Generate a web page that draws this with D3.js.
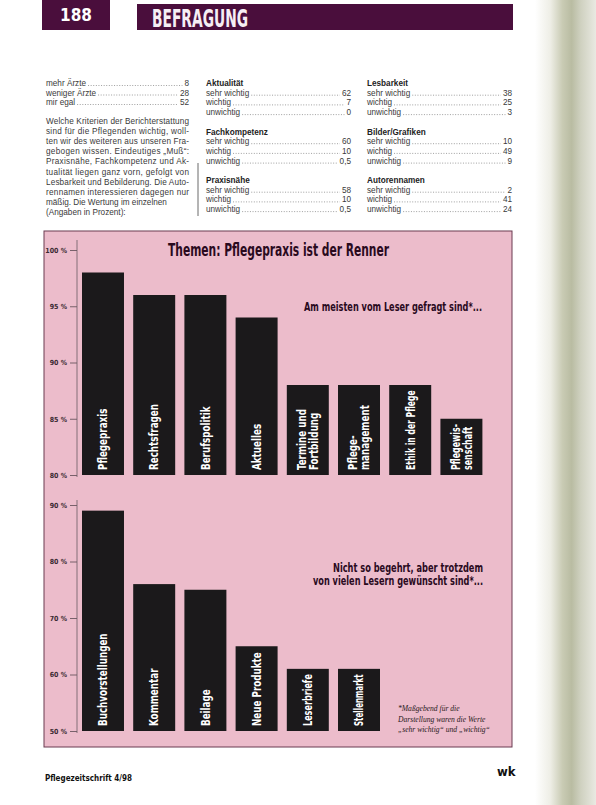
<!DOCTYPE html>
<html><head><meta charset="utf-8">
<script src="https://cdn.jsdelivr.net/npm/d3@7"></script>
<style>
html,body{margin:0;padding:0;background:#fff;}
svg{display:block;}
</style></head>
<body>
<script>
// ---------- data ----------
const topCategories = ["Pflegepraxis","Rechtsfragen","Berufspolitik","Aktuelles","Termine und\nFortbildung","Pflege-\nmanagement","Ethik in der Pflege","Pflegewis-\nsenschaft"];
const topValues = [98, 96, 96, 94, 88, 88, 88, 85];
const topTicks = [80, 85, 90, 95, 100];

const bottomCategories = ["Buchvorstellungen","Kommentar","Beilage","Neue Produkte","Leserbriefe","Stellenmarkt"];
const bottomValues = [89, 76, 75, 65, 61, 61];
const bottomTicks = [50, 60, 70, 80, 90];

const col1Rows = [["mehr Ärzte","8"],["weniger Ärzte","28"],["mir egal","52"]];
const col1Paragraph = [
 "Welche Kriterien der Berichterstattung",
 "sind für die Pflegenden wichtig, woll-",
 "ten wir des weiteren aus unseren Fra-",
 "gebogen wissen. Eindeutiges „Muß“:",
 "Praxisnähe, Fachkompetenz und Ak-",
 "tualität liegen ganz vorn, gefolgt von",
 "Lesbarkeit und Bebilderung. Die Auto-",
 "rennamen interessieren dagegen nur",
 "mäßig. Die Wertung im einzelnen",
 "(Angaben in Prozent):"
];
const col2Titles = ["Aktualität","Fachkompetenz","Praxisnähe"];
const col2Rows = [
 [["sehr wichtig","62"],["wichtig","7"],["unwichtig","0"]],
 [["sehr wichtig","60"],["wichtig","10"],["unwichtig","0,5"]],
 [["sehr wichtig","58"],["wichtig","10"],["unwichtig","0,5"]]
];
const col3Titles = ["Lesbarkeit","Bilder/Grafiken","Autorennamen"];
const col3Rows = [
 [["sehr wichtig","38"],["wichtig","25"],["unwichtig","3"]],
 [["sehr wichtig","10"],["wichtig","49"],["unwichtig","9"]],
 [["sehr wichtig","2"],["wichtig","41"],["unwichtig","24"]]
];

// ---------- setup ----------
const W = 596, H = 805;
const svg = d3.select("body").append("svg").attr("width", W).attr("height", H);
const COND = "'Liberation Sans Narrow','DejaVu Sans Condensed','Roboto Condensed',sans-serif";
const BODY = "'Liberation Sans','DejaVu Sans',sans-serif";
const PURPLE = "#4a0e3c";

const defs = svg.append("defs");
const edge = defs.append("linearGradient").attr("id","edge").attr("x1","0").attr("x2","1").attr("y1","0").attr("y2","0");
[[0,"#ffffff"],[0.25,"#eeeee6"],[0.45,"#c9cbb4"],[0.6,"#b9bca2"],[0.75,"#cfd1c0"],[1,"#e9e9e2"]].forEach(([o,c])=>edge.append("stop").attr("offset",o).attr("stop-color",c));
svg.append("rect").attr("x",535).attr("y",0).attr("width",61).attr("height",H).attr("fill","url(#edge)");

// ---------- header ----------
svg.append("rect").attr("x",42).attr("y",0).attr("width",68).attr("height",30).attr("fill",PURPLE);
svg.append("text").attr("x",76).attr("y",21).attr("text-anchor","middle").attr("fill","#fff")
  .attr("font-family",COND).attr("font-weight","bold").attr("font-size",17).text("188");
svg.append("rect").attr("x",137).attr("y",4).attr("width",376).attr("height",26).attr("fill",PURPLE);
svg.append("text").attr("x",152).attr("y",27).attr("fill","#f6eef4")
  .attr("font-family",COND).attr("font-weight","bold").attr("font-size",25)
  .attr("textLength",96).attr("lengthAdjust","spacingAndGlyphs").text("BEFRAGUNG");

// ---------- text columns ----------
const TXT = "#3a3a3a";
function leaderRow(g, x0, x1, y, label, value){
  const t = g.append("text").attr("x",x0).attr("y",y).attr("font-family",BODY).attr("font-size",8.2).attr("fill",TXT).text(label);
  const v = g.append("text").attr("x",x1).attr("y",y).attr("text-anchor","end").attr("font-family",BODY).attr("font-size",8.2).attr("fill",TXT).text(value);
  const lx = x0 + t.node().getComputedTextLength() + 2;
  const rx = x1 - v.node().getComputedTextLength() - 2;
  g.append("line").attr("x1",lx).attr("x2",rx).attr("y1",y-0.5).attr("y2",y-0.5)
    .attr("stroke","#777").attr("stroke-width",0.7).attr("stroke-dasharray","1,1.6");
}
const tg = svg.append("g");
col1Rows.forEach((r,i)=>leaderRow(tg, 46, 189, 86 + i*9.5, r[0], r[1]));
col1Paragraph.forEach((line,i)=>{
  const t = tg.append("text").attr("x",46).attr("y",124 + i*10.1).attr("font-family",BODY).attr("font-size",8.2).attr("fill",TXT).text(line);
  if(i < col1Paragraph.length-1 && i !== 8) t.attr("textLength",143).attr("lengthAdjust","spacing");
});
tg.append("line").attr("x1",198).attr("x2",198).attr("y1",163).attr("y2",216).attr("stroke","#444").attr("stroke-width",0.8);

function groupCol(x0, x1, titles, rows){
  titles.forEach((title,gi)=>{
    const y0 = 86 + gi*48.5;
    tg.append("text").attr("x",x0).attr("y",y0).attr("font-family",BODY).attr("font-weight","bold").attr("font-size",8.2).attr("fill","#222").text(title);
    rows[gi].forEach((r,i)=>leaderRow(tg, x0, x1, y0 + 9.7*(i+1), r[0], r[1]));
  });
}
groupCol(206, 351, col2Titles, col2Rows);
groupCol(367, 512, col3Titles, col3Rows);

// ---------- pink panel ----------
svg.append("rect").attr("x",44).attr("y",231).attr("width",468).attr("height",516)
  .attr("fill","#ecbccb").attr("stroke","#6a3a50").attr("stroke-width",1);

const x = d3.scaleBand().domain(d3.range(8)).range([82, 482.4]).paddingInner(0.18).paddingOuter(0);
const BAR = "#1b191b";

function drawChart(cats, vals, ticks, y, axisTop){
  const g = svg.append("g");
  // axis
  const axis = d3.axisLeft(y).tickValues(ticks).tickFormat(d=>d+" %").tickSize(7).tickPadding(3);
  const ag = g.append("g").attr("transform","translate(77,0)").call(axis);
  ag.select(".domain").remove();
  ag.selectAll("line").attr("stroke","#5a4a52").attr("stroke-width",0.8);
  ag.selectAll("text").attr("font-family",COND).attr("font-weight","bold").attr("font-size",7).attr("fill","#3a2a32");
  g.append("line").attr("x1",77).attr("x2",77).attr("y1",axisTop).attr("y2",y.range()[0]+2)
    .attr("stroke","#6a5a62").attr("stroke-width",0.8);
  // bars
  const base = y.range()[0];
  g.selectAll("rect.bar").data(vals).join("rect").attr("class","bar")
    .attr("x",(d,i)=>x(i)).attr("width",x.bandwidth())
    .attr("y",d=>y(d)).attr("height",d=>base - y(d)).attr("fill",BAR);
  // labels (condensed to fit inside the bar)
  cats.forEach((c,i)=>{
    const lines = c.split("\n");
    const cx = x(i) + x.bandwidth()/2;
    const barH = base - y(vals[i]);
    const t = g.append("text")
      .attr("font-family",COND).attr("font-weight","bold").attr("font-size",12.5).attr("fill","#fff");
    lines.forEach((l,j)=>{
      t.append("tspan").attr("x",0).attr("y",(j-(lines.length-1)/2)*12 + 4.3).text(l);
    });
    const natural = t.node().getBBox().width;
    const s = Math.min(0.78, (barH - 10) / natural);
    t.attr("transform",`translate(${cx},${base-5}) rotate(-90) scale(${s},1)`);
  });
}

const yTop = d3.scaleLinear().domain([80,100]).range([475, 250]);
drawChart(topCategories, topValues, topTicks, yTop, 240);
const yBot = d3.scaleLinear().domain([50,90]).range([731, 505]);
drawChart(bottomCategories, bottomValues, bottomTicks, yBot, 500);

// titles
const DARK = "#2a0a1e";
svg.append("text").attr("x",168).attr("y",256).attr("font-family",COND).attr("font-weight","bold").attr("font-size",17)
  .attr("fill",DARK).attr("textLength",221).attr("lengthAdjust","spacingAndGlyphs").text("Themen: Pflegepraxis ist der Renner");
svg.append("text").attr("x",304).attr("y",311).attr("font-family",COND).attr("font-weight","bold").attr("font-size",12)
  .attr("fill",DARK).attr("textLength",178).attr("lengthAdjust","spacingAndGlyphs").text("Am meisten vom Leser gefragt sind*...");
svg.append("text").attr("x",333).attr("y",572).attr("font-family",COND).attr("font-weight","bold").attr("font-size",12)
  .attr("fill",DARK).attr("textLength",150).attr("lengthAdjust","spacingAndGlyphs").text("Nicht so begehrt, aber trotzdem");
svg.append("text").attr("x",313).attr("y",585).attr("font-family",COND).attr("font-weight","bold").attr("font-size",12)
  .attr("fill",DARK).attr("textLength",170).attr("lengthAdjust","spacingAndGlyphs").text("von vielen Lesern gewünscht sind*...");

// footnote
const foot = ["*Maßgebend für die","Darstellung waren die Werte","„sehr wichtig“ und „wichtig“"];
foot.forEach((l,i)=>svg.append("text").attr("x",398).attr("y",711 + i*10.5).attr("font-family","'Liberation Serif','DejaVu Serif',serif")
  .attr("font-style","italic").attr("font-size",7.6).attr("fill","#2a1a22").text(l));

// footer
svg.append("text").attr("x",45).attr("y",781).attr("font-family",COND).attr("font-weight","bold").attr("font-size",8)
  .attr("fill","#111").text("Pflegezeitschrift 4/98");
svg.append("text").attr("x",497).attr("y",776).attr("font-family",COND).attr("font-weight","bold").attr("font-size",13)
  .attr("fill","#111").text("wk");
</script>
</body></html>
